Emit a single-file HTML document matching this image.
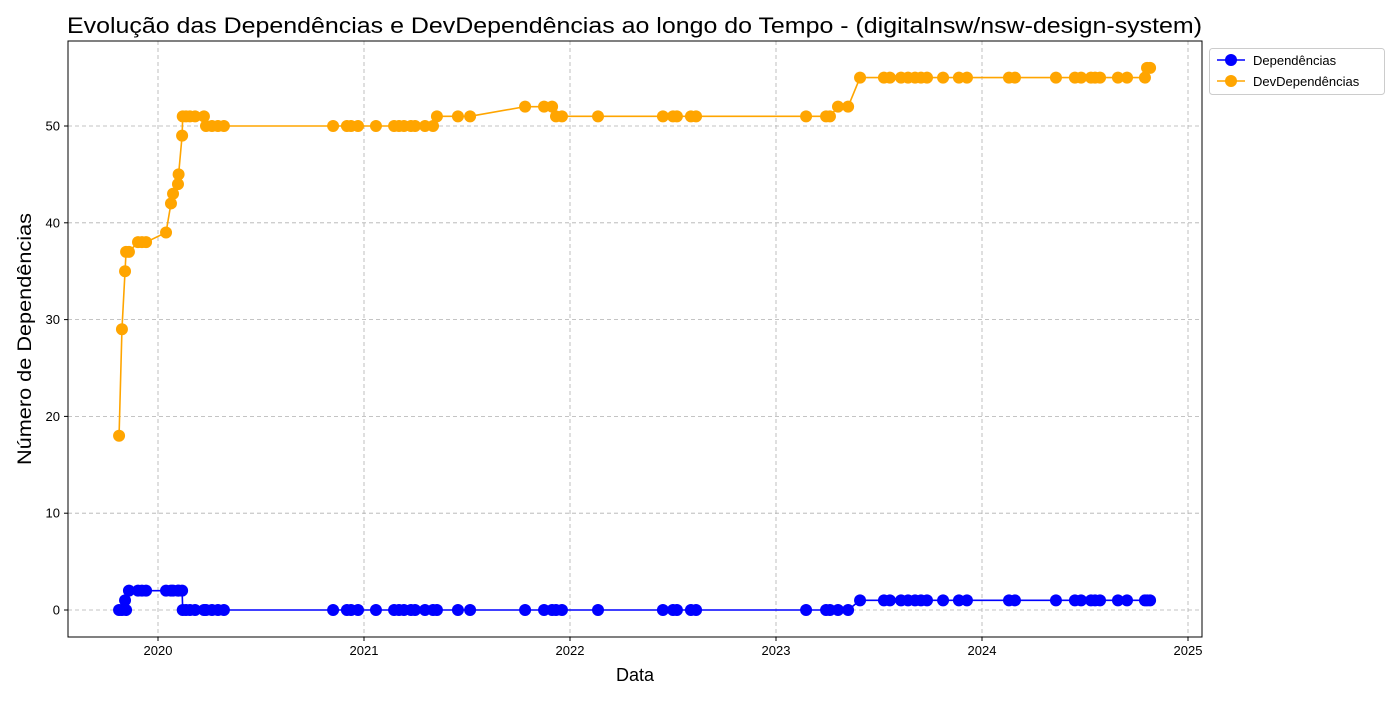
<!DOCTYPE html>
<html><head><meta charset="utf-8"><style>
body{margin:0;background:#fff;width:1400px;height:700px;overflow:hidden}
svg{font-family:"Liberation Sans","DejaVu Sans",sans-serif}
</style></head><body>
<svg id="chart" width="1400" height="700"></svg>
<script>
const dates=[2019.811,2019.825,2019.840,2019.845,2019.859,2019.903,2019.922,2019.942,2020.039,2020.063,2020.073,2020.097,2020.100,2020.117,2020.120,2020.136,2020.155,2020.180,2020.223,2020.233,2020.262,2020.291,2020.320,2020.850,2020.917,2020.937,2020.971,2021.058,2021.146,2021.170,2021.194,2021.228,2021.248,2021.296,2021.335,2021.354,2021.456,2021.515,2021.782,2021.874,2021.913,2021.932,2021.961,2022.136,2022.451,2022.500,2022.519,2022.587,2022.612,2023.146,2023.243,2023.262,2023.301,2023.350,2023.408,2023.524,2023.553,2023.607,2023.641,2023.675,2023.704,2023.733,2023.811,2023.888,2023.927,2024.131,2024.160,2024.359,2024.451,2024.481,2024.529,2024.549,2024.573,2024.660,2024.704,2024.791,2024.801,2024.816];
const deps=[0,0,1,0,2,2,2,2,2,2,2,2,2,2,0,0,0,0,0,0,0,0,0,0,0,0,0,0,0,0,0,0,0,0,0,0,0,0,0,0,0,0,0,0,0,0,0,0,0,0,0,0,0,0,1,1,1,1,1,1,1,1,1,1,1,1,1,1,1,1,1,1,1,1,1,1,1,1];
const devDeps=[18,29,35,37,37,38,38,38,39,42,43,44,45,49,51,51,51,51,51,50,50,50,50,50,50,50,50,50,50,50,50,50,50,50,50,51,51,51,52,52,52,51,51,51,51,51,51,51,51,51,51,51,52,52,55,55,55,55,55,55,55,55,55,55,55,55,55,55,55,55,55,55,55,55,55,55,56,56];
const xTicks=[2020,2021,2022,2023,2024,2025];
const yTicks=[0,10,20,30,40,50];
const L=68,R=1202,T=41,B=637;
const xs=v=>158+(v-2020)*206;
const ys=v=>610-v*9.68;
const NS="http://www.w3.org/2000/svg";
const svg=document.getElementById('chart');
function mk(tag,attrs,parent){const e=document.createElementNS(NS,tag);for(const k in attrs)e.setAttribute(k,attrs[k]);(parent||svg).appendChild(e);return e;}
const grid=mk('g',{});


xTicks.forEach(t=>{const x=xs(t);
 mk('line',{x1:x,x2:x,y1:T,y2:B,stroke:'#b0b0b0','stroke-dasharray':'4,3','stroke-width':0.8},grid);
 mk('line',{x1:x,x2:x,y1:B,y2:B+4,stroke:'#000'});
 const tx=mk('text',{x:x,y:B+18,'text-anchor':'middle','font-size':13});tx.textContent=t;
 
 
});
yTicks.forEach(t=>{const y=ys(t);
 mk('line',{x1:L,x2:R,y1:y,y2:y,stroke:'#b0b0b0','stroke-dasharray':'4,3','stroke-width':0.8},grid);
 mk('line',{x1:L-4,x2:L,y1:y,y2:y,stroke:'#000'});
 const tx=mk('text',{x:L-8,y:y+4.5,'text-anchor':'end','font-size':13});tx.textContent=t;
 
 
});
function series(vals,color,name){
 const g=mk('g',{});
 
 
 mk('polyline',{points:dates.map((d,i)=>xs(d)+','+ys(vals[i])).join(' '),fill:'none',stroke:color,'stroke-width':1.6},g);
 dates.forEach((d,i)=>{const c=mk('circle',{cx:xs(d),cy:ys(vals[i]),r:6,fill:color},g);
  
  });
}
series(deps,'#0000ff','dependencias-series');
series(devDeps,'#ffa500','devdependencias-series');
const frame=mk('rect',{x:L,y:T,width:R-L,height:B-T,fill:'none',stroke:'#000','stroke-width':1});


</script>
<svg width="1400" height="700" style="position:absolute;left:0;top:0">
<text x="67" y="33" font-size="22" textLength="1135" lengthAdjust="spacingAndGlyphs">Evolução das Dependências e DevDependências ao longo do Tempo - (digitalnsw/nsw-design-system)</text>
<text x="635" y="681" text-anchor="middle" font-size="18">Data</text>
<text x="31" y="339" text-anchor="middle" font-size="19" textLength="252" lengthAdjust="spacingAndGlyphs" transform="rotate(-90 31 339)">Número de Dependências</text>
<g>
<rect x="1209.5" y="48.5" width="175" height="46" rx="3" fill="#fff" stroke="#ccc"/>
<g><line x1="1217" x2="1245" y1="60" y2="60" stroke="#0000ff" stroke-width="1.6"/><circle cx="1231" cy="60" r="6" fill="#0000ff"/><text x="1253" y="65" font-size="13">Dependências</text></g>
<g><line x1="1217" x2="1245" y1="81" y2="81" stroke="#ffa500" stroke-width="1.6"/><circle cx="1231" cy="81" r="6" fill="#ffa500"/><text x="1253" y="86" font-size="13">DevDependências</text></g>
</g>
</svg>
</body></html>
